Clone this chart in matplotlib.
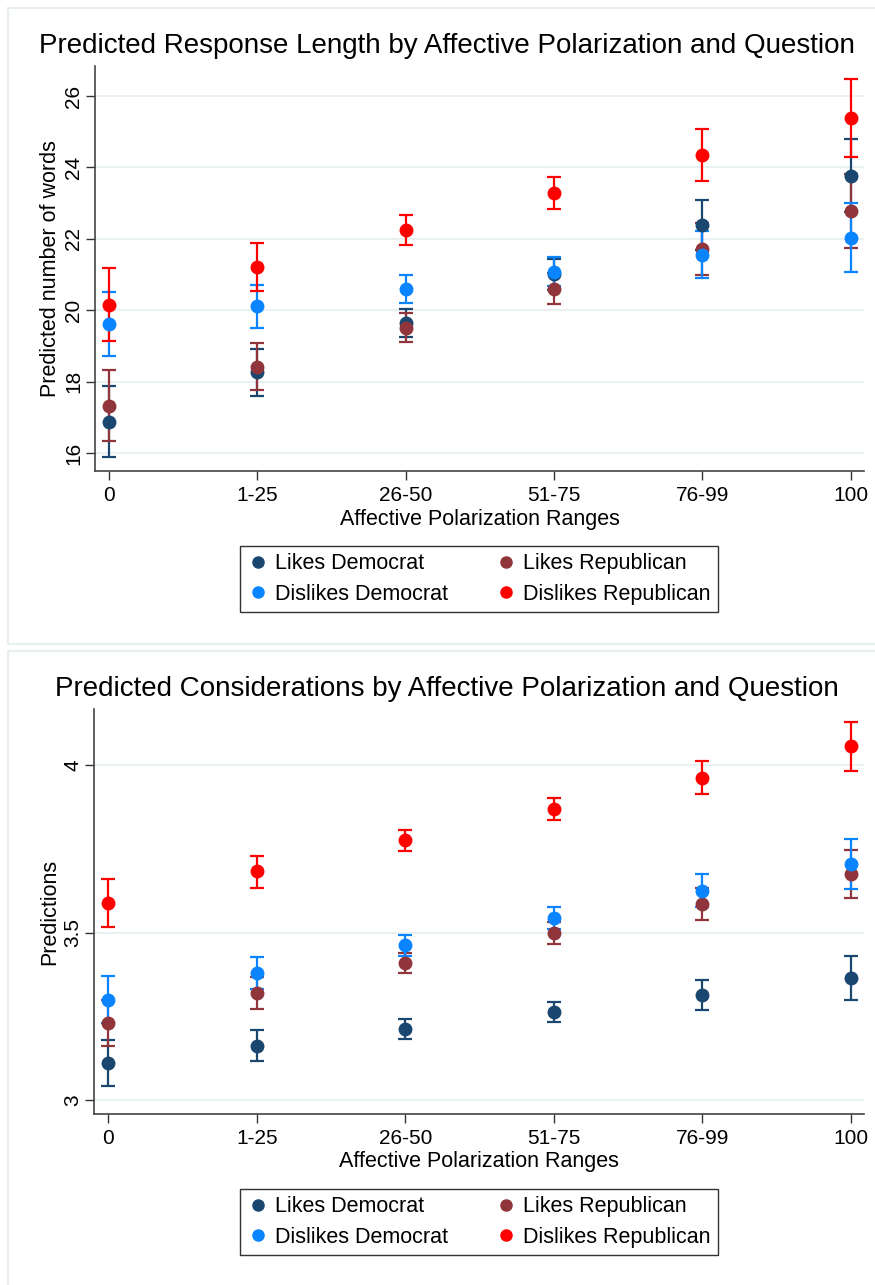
import matplotlib.pyplot as plt
from matplotlib.patches import Rectangle
from matplotlib.lines import Line2D

plt.rcParams['font.family'] = ['Liberation Sans', 'DejaVu Sans']

ranges = ['0', '1-25', '26-50', '51-75', '76-99', '100']
groups = ['Likes Democrat', 'Likes Republican', 'Dislikes Democrat', 'Dislikes Republican']
colors = ['#1a476f', '#90353b', '#0a84ff', '#ff0000']

# predicted number of words: estimate, lower and upper 95% bounds
words_likes_dem = [16.88, 18.26, 19.65, 21.01, 22.39, 23.77]
words_likes_dem_lo = [15.89, 17.61, 19.26, 20.58, 21.70, 22.74]
words_likes_dem_hi = [17.88, 18.91, 20.03, 21.44, 23.08, 24.80]
words_likes_rep = [17.32, 18.42, 19.51, 20.60, 21.71, 22.78]
words_likes_rep_lo = [16.34, 17.76, 19.10, 20.17, 20.98, 21.75]
words_likes_rep_hi = [18.32, 19.09, 19.91, 21.03, 22.44, 23.81]
words_dislikes_dem = [19.62, 20.11, 20.59, 21.08, 21.55, 22.03]
words_dislikes_dem_lo = [18.72, 19.50, 20.20, 20.68, 20.89, 21.06]
words_dislikes_dem_hi = [20.52, 20.71, 20.98, 21.49, 22.23, 23.01]
words_dislikes_rep = [20.16, 21.20, 22.25, 23.29, 24.34, 25.38]
words_dislikes_rep_lo = [19.15, 20.54, 21.84, 22.84, 23.61, 24.30]
words_dislikes_rep_hi = [21.17, 21.87, 22.66, 23.74, 25.08, 26.47]

# predicted considerations
cons_likes_dem = [3.112, 3.163, 3.214, 3.263, 3.315, 3.365]
cons_likes_dem_lo = [3.044, 3.116, 3.184, 3.234, 3.270, 3.300]
cons_likes_dem_hi = [3.181, 3.210, 3.242, 3.293, 3.358, 3.431]
cons_likes_rep = [3.231, 3.320, 3.409, 3.498, 3.585, 3.676]
cons_likes_rep_lo = [3.162, 3.273, 3.379, 3.465, 3.537, 3.603]
cons_likes_rep_hi = [3.300, 3.367, 3.440, 3.531, 3.633, 3.747]
cons_dislikes_dem = [3.300, 3.381, 3.462, 3.544, 3.625, 3.706]
cons_dislikes_dem_lo = [3.229, 3.332, 3.431, 3.512, 3.576, 3.631]
cons_dislikes_dem_hi = [3.371, 3.428, 3.493, 3.576, 3.676, 3.780]
cons_dislikes_rep = [3.588, 3.683, 3.775, 3.869, 3.962, 4.056]
cons_dislikes_rep_lo = [3.518, 3.634, 3.744, 3.836, 3.913, 3.983]
cons_dislikes_rep_hi = [3.660, 3.730, 3.807, 3.902, 4.012, 4.129]

words = [
    (words_likes_dem, words_likes_dem_lo, words_likes_dem_hi),
    (words_likes_rep, words_likes_rep_lo, words_likes_rep_hi),
    (words_dislikes_dem, words_dislikes_dem_lo, words_dislikes_dem_hi),
    (words_dislikes_rep, words_dislikes_rep_lo, words_dislikes_rep_hi),
]
cons = [
    (cons_likes_dem, cons_likes_dem_lo, cons_likes_dem_hi),
    (cons_likes_rep, cons_likes_rep_lo, cons_likes_rep_hi),
    (cons_dislikes_dem, cons_dislikes_dem_lo, cons_dislikes_dem_hi),
    (cons_dislikes_rep, cons_dislikes_rep_lo, cons_dislikes_rep_hi),
]

fig = plt.figure(figsize=(8.75, 12.85), dpi=100)
W, H = 875, 1285

# light frames around each graph
for y0, y1 in [(8, 644), (651, 1300)]:
    fig.patches.append(Rectangle((8 / W, 1 - y1 / H), 880 / W, (y1 - y0) / H,
                                 transform=fig.transFigure, fill=False,
                                 edgecolor='#e6eef0', linewidth=1.5))

def panel(rect, series, ylim, yticks, ylabel, title, title_y, xlabel_y, leg_y):
    ax = fig.add_axes(rect)
    x = list(range(len(ranges)))
    for (est, lo, hi), c in zip(series, colors):
        err = [[e - l for e, l in zip(est, lo)], [h - e for e, h in zip(est, hi)]]
        ax.errorbar(x, est, yerr=err, fmt='o', color=c, markersize=9,
                    elinewidth=1.6, capsize=5, capthick=1.6)
    ax.set_xlim(-0.094, 5.09)
    ax.set_ylim(*ylim)
    ax.set_yticks(yticks)
    ax.set_yticklabels([f'{t:g}' for t in yticks], rotation=90, va='center')
    ax.set_xticks(x)
    ax.set_xticklabels(ranges)
    ax.tick_params(labelsize=15, length=6.5, width=1, color='#333333', pad=4)
    ax.tick_params(axis='y', pad=2)
    ax.grid(axis='y', color='#eaf1f3', linewidth=1.5)
    ax.set_axisbelow(True)
    for s in ['top', 'right']:
        ax.spines[s].set_visible(False)
    for s in ['left', 'bottom']:
        ax.spines[s].set_color('#444444')
        ax.spines[s].set_linewidth(1.2)
    ax.set_ylabel(ylabel, fontsize=15.5, labelpad=2)
    fig.text(447 / W, 1 - title_y / H, title,
             ha='center', va='center', fontsize=20)
    fig.text(0.5 * (rect[0] + rect[0] + rect[2]), 1 - xlabel_y / H,
             'Affective Polarization Ranges', ha='center', va='center', fontsize=15.5)
    handles = [Line2D([], [], marker='o', linestyle='none', color=c, markersize=8)
               for c in colors]
    order = [0, 2, 1, 3]
    fig.legend([handles[i] for i in order], [groups[i] for i in order],
               ncol=2, loc='center', bbox_to_anchor=(479 / W, 1 - leg_y / H),
               fontsize=15.5, frameon=True, fancybox=False, edgecolor='black',
               handletextpad=0.3, handlelength=1.0, columnspacing=2.2,
               labelspacing=0.45, borderpad=0.35).get_frame().set_linewidth(1.0)
    return ax

panel([95 / W, 1 - 471 / H, 769 / W, 405 / H], words, (15.5, 26.84),
      [16, 18, 20, 22, 24, 26], 'Predicted number of words',
      'Predicted Response Length by Affective Polarization and Question',
      46, 519, 579)
panel([94.3 / W, 1 - 1114 / H, 769.7 / W, 405 / H], cons, (2.959, 4.167),
      [3, 3.5, 4], 'Predictions',
      'Predicted Considerations by Affective Polarization and Question',
      689, 1162, 1222)

fig.savefig('out.png', dpi=100, facecolor='white')
